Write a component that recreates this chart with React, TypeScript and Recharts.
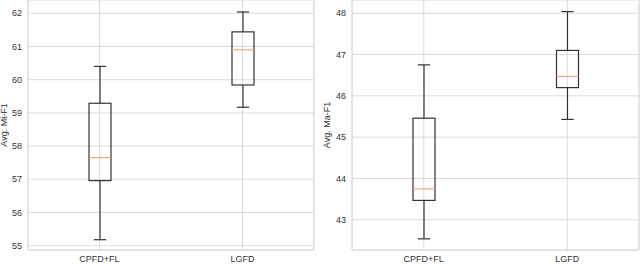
import React from "react";
import { ComposedChart, Bar, XAxis, YAxis, CartesianGrid } from "recharts";

const categories = ["CPFD+FL", "LGFD"];

// Avg. Mi-F1 (left panel)
const miMin = [55.18, 59.17];
const miQ1 = [56.96, 59.84];
const miMedian = [57.65, 60.9];
const miQ3 = [59.29, 61.44];
const miMax = [60.4, 62.04];
const miTicks = [55, 56, 57, 58, 59, 60, 61, 62];

// Avg. Ma-F1 (right panel)
const maMin = [42.54, 45.43];
const maQ1 = [43.47, 46.2];
const maMedian = [43.75, 46.47];
const maQ3 = [45.46, 47.1];
const maMax = [46.75, 48.04];
const maTicks = [43, 44, 45, 46, 47, 48];

const buildRows = (
  min: number[],
  q1: number[],
  median: number[],
  q3: number[],
  max: number[]
) =>
  categories.map((name, i) => ({
    name,
    min: min[i],
    q1: q1[i],
    median: median[i],
    q3: q3[i],
    max: max[i],
    range: [min[i], max[i]],
  }));

const miData = buildRows(miMin, miQ1, miMedian, miQ3, miMax);
const maData = buildRows(maMin, maQ1, maMedian, maQ3, maMax);

const GRID = "#dcdcdc";
const INK = "#333333";
const MEDIAN = "#f4a582";

// draws whiskers, box and median from the bar's min..max pixel span
const BoxShape = (props: any) => {
  const { x, y, width, height, payload } = props;
  if (!payload) return null;
  const top = Math.min(y, y + height);
  const bottom = Math.max(y, y + height);
  const span = payload.max - payload.min;
  const py = (v: number) => bottom - ((v - payload.min) / span) * (bottom - top);
  const cx = x + width / 2;
  const cap = width * 0.28;

  return (
    <g stroke={INK} strokeWidth={1.2} fill="none">
      <line x1={cx} x2={cx} y1={py(payload.max)} y2={py(payload.q3)} />
      <line x1={cx} x2={cx} y1={py(payload.q1)} y2={py(payload.min)} />
      <line x1={cx - cap} x2={cx + cap} y1={py(payload.max)} y2={py(payload.max)} />
      <line x1={cx - cap} x2={cx + cap} y1={py(payload.min)} y2={py(payload.min)} />
      <rect
        x={x}
        y={py(payload.q3)}
        width={width}
        height={py(payload.q1) - py(payload.q3)}
      />
      <line
        x1={x}
        x2={x + width}
        y1={py(payload.median)}
        y2={py(payload.median)}
        stroke={MEDIAN}
      />
    </g>
  );
};

type PanelProps = {
  data: any[];
  ticks: number[];
  domain: [number, number];
  label: string;
  axisWidth: number;
  labelOffset: number;
  rightMargin: number;
};

const Panel = ({ data, ticks, domain, label, axisWidth, labelOffset, rightMargin }: PanelProps) => (
  <ComposedChart
    width={320}
    height={264}
    data={data}
    margin={{ top: 0, right: rightMargin, bottom: 0, left: 0 }}
  >
    <CartesianGrid stroke={GRID} strokeWidth={1} />
    <XAxis
      dataKey="name"
      tickLine={false}
      tickSize={4}
      tickMargin={2}
      height={14}
      axisLine={{ stroke: GRID }}
      tick={{ fontSize: 9, fill: INK, fontFamily: "Liberation Sans, Arial, sans-serif" }}
    />
    <YAxis
      type="number"
      domain={domain}
      ticks={ticks}
      width={axisWidth}
      tickLine={false}
      tickSize={4}
      tickMargin={2}
      axisLine={{ stroke: GRID }}
      tick={{ fontSize: 9, fill: INK, fontFamily: "Liberation Sans, Arial, sans-serif" }}
      label={{
        value: label,
        angle: -90,
        position: "insideLeft",
        offset: labelOffset,
        style: {
          textAnchor: "middle",
          fontSize: 9,
          fill: INK,
          fontFamily: "Liberation Sans, Arial, sans-serif",
        },
      }}
    />
    <YAxis
      yAxisId="border"
      orientation="right"
      type="number"
      domain={domain}
      width={1}
      tick={false}
      tickLine={false}
      axisLine={{ stroke: GRID }}
    />
    <Bar dataKey="range" barSize={22} shape={<BoxShape />} isAnimationActive={false} />
  </ComposedChart>
);

export default function App() {
  return (
    <div
      style={{
        position: "absolute",
        left: 0,
        top: 0,
        width: 640,
        height: 264,
        display: "flex",
        background: "#ffffff",
      }}
    >
      <Panel
        data={miData}
        ticks={miTicks}
        domain={[54.87, 62.4]}
        label="Avg. Mi-F1"
        axisWidth={28}
        labelOffset={4}
        rightMargin={5}
      />
      <Panel
        data={maData}
        ticks={maTicks}
        domain={[42.27, 48.32]}
        label="Avg. Ma-F1"
        axisWidth={32}
        labelOffset={7}
        rightMargin={0}
      />
    </div>
  );
}
